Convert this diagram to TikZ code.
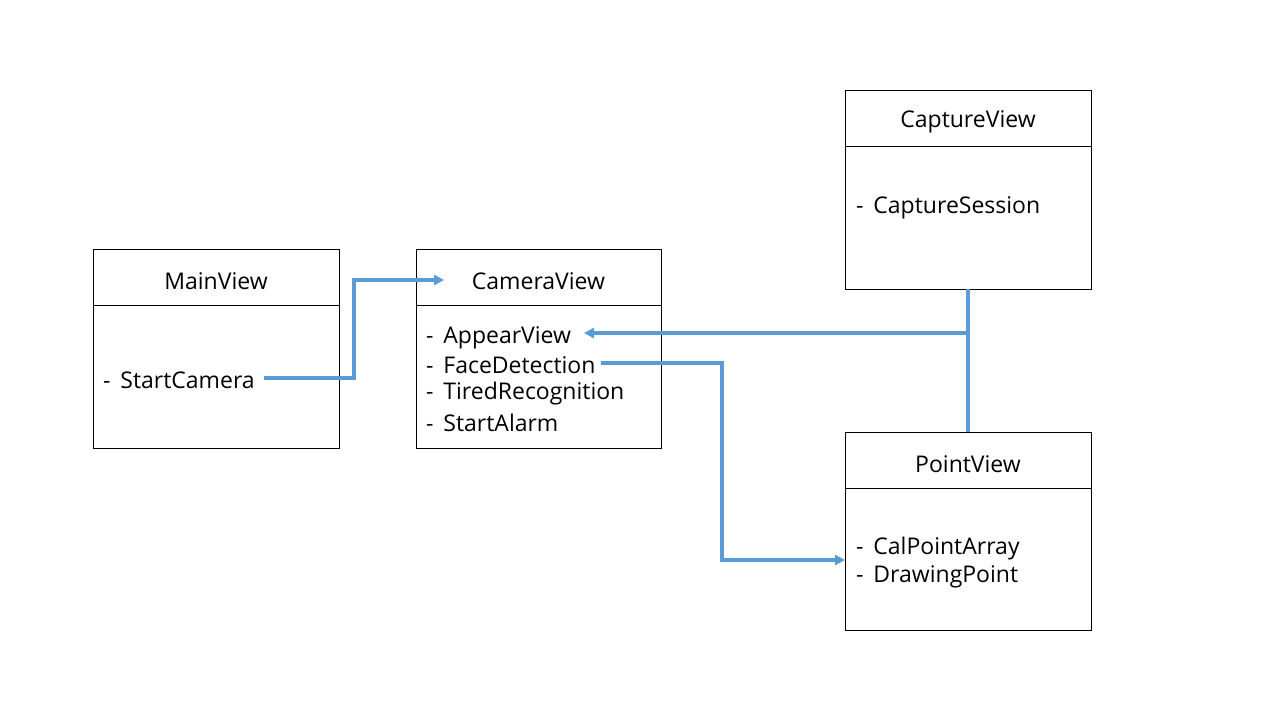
\documentclass[tikz,border=0pt]{standalone}
\usepackage{fontspec}
\setmainfont{Open Sans}
\usetikzlibrary{arrows.meta}
\definecolor{conn}{HTML}{5B9BD5}
\tikzset{
  box/.style={draw=black, line width=1pt, fill=white},
  title/.style={font=\fontsize{23}{27}\selectfont, inner sep=0pt, yshift=-3pt},
  item/.style={font=\fontsize{23}{27}\selectfont, inner sep=0pt, anchor=west, yshift=-2.5pt},
  link/.style={draw=conn, line width=3.2pt},
  arr/.style={link, -{Triangle[length=10pt,width=10pt]}}
}
\begin{document}
\begin{tikzpicture}[x=1pt,y=-1pt]
\path[fill=white] (0,0) rectangle (1280,720);
% boxes
\draw[box] (93,249) rectangle (339,448); \draw[box] (93,305) -- (339,305);
\draw[box] (416,249) rectangle (661,448); \draw[box] (416,305) -- (661,305);
\draw[box] (845,90) rectangle (1091,289); \draw[box] (845,146) -- (1091,146);
\draw[box] (845,432) rectangle (1091,630); \draw[box] (845,488) -- (1091,488);
% titles
\node[title] (tmain) at (216,278) {MainView};
\node[title] (tcam) at (538.5,278) {CameraView};
\node[title] (tcap) at (968,119) {CaptureView};
\node[title] (tpoint) at (968,461) {PointView};
% items
\node[item] (sc) at (103,378) {-\ \,StartCamera};
\node[item] (av) at (426,335) {-\ \,AppearView};
\node[item] (fd) at (426,363) {-\ \,FaceDetection};
\node[item] (tr) at (426,391) {-\ \,TiredRecognition};
\node[item] (sa) at (426,420) {-\ \,StartAlarm};
\node[item] (cs) at (856,205) {-\ \,CaptureSession};
\node[item] (cp) at (856,546) {-\ \,CalPointArray};
\node[item] (dp) at (856,574) {-\ \,DrawingPoint};
% connector anchors
\coordinate (capbot) at (968,289);
\coordinate (pttop) at (968,432);
\coordinate (junc) at (968,333);
\coordinate (camin) at (444,280);
\coordinate (ptin) at (845,560);
% connectors
\draw[arr] (264,378) -- (354,378) |- (camin);
\draw[link] (capbot) -- (pttop);
\draw[arr] (junc) -- (584,333);
\draw[arr] (601,363) -- (722,363) |- (ptin);
\end{tikzpicture}
\end{document}
